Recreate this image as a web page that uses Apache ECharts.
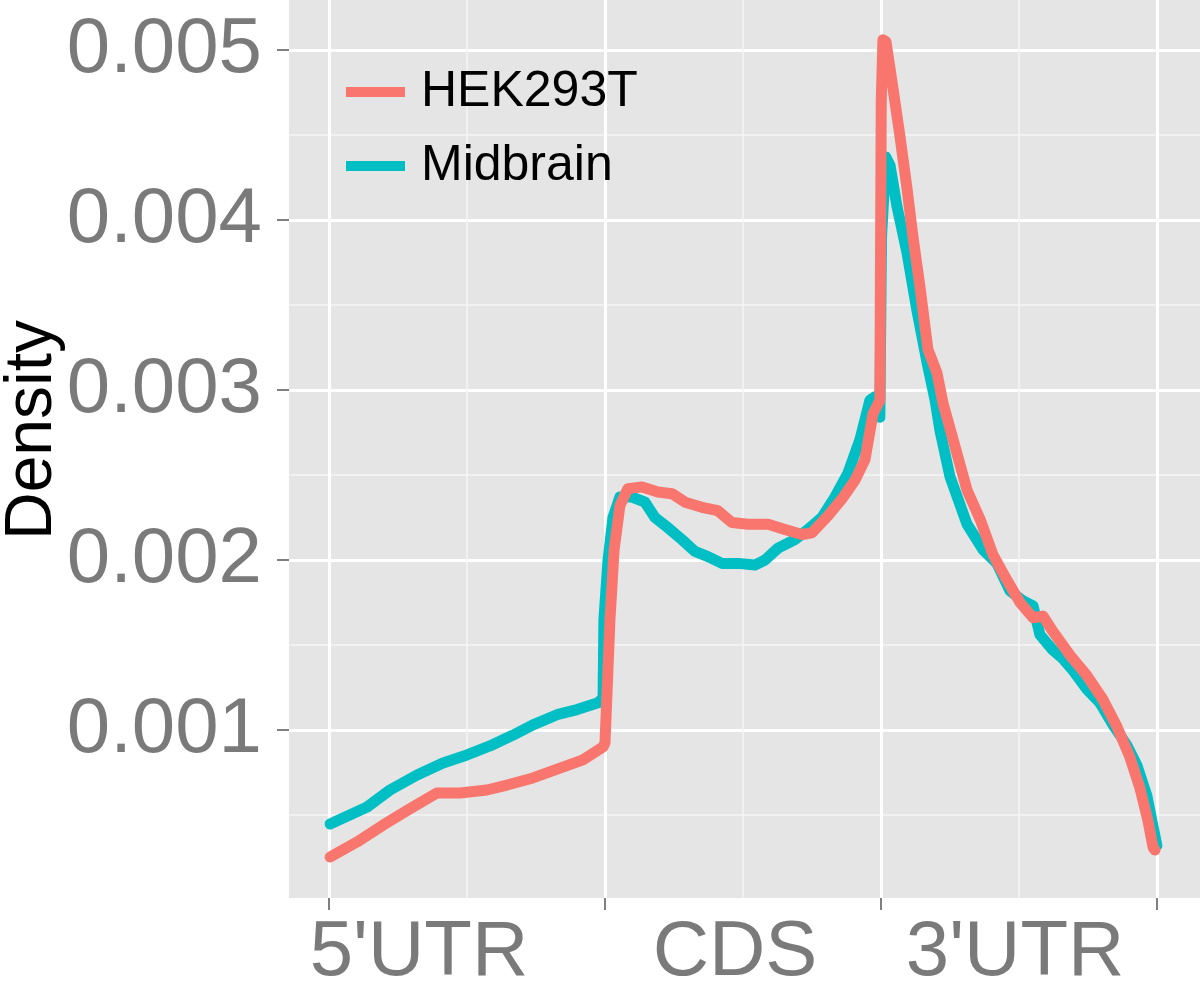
<!DOCTYPE html>
<html><head><meta charset="utf-8">
<script src="https://cdn.jsdelivr.net/npm/echarts@6/dist/echarts.min.js"></script>
<style>html,body{margin:0;padding:0;background:#fff}#c{width:1200px;height:982px}</style>
</head><body><div id="c"></div>
<script>
// ---- data ----
const seriesNames = ['HEK293T', 'Midbrain'];
const regionLabels = ["5'UTR", 'CDS', "3'UTR"];
const regionLabelPos = [0.326, 1.471, 2.486];
const regionBounds = [0, 1, 2, 3];
const regionMinor = [0.5, 1.5, 2.5];
const yTicks = [0.001, 0.002, 0.003, 0.004, 0.005];
const yMinorTicks = [0.0005, 0.0015, 0.0025, 0.0035, 0.0045];

const hekX = [0.004, 0.101, 0.196, 0.304, 0.391, 0.475, 0.572, 0.645, 0.739, 0.837,
              0.920, 0.993, 1.000, 1.018, 1.033, 1.054, 1.083, 1.134, 1.192, 1.243,
              1.290, 1.351, 1.409, 1.460, 1.518, 1.591, 1.652, 1.714, 1.750, 1.808,
              1.859, 1.906, 1.942, 1.971, 1.996, 2.001, 2.007, 2.018, 2.043, 2.069,
              2.094, 2.116, 2.141, 2.170, 2.203, 2.225, 2.261, 2.312, 2.359, 2.406,
              2.457, 2.504, 2.551, 2.587, 2.623, 2.685, 2.746, 2.804, 2.855, 2.902,
              2.938, 2.967, 2.986, 2.993];
const hekY = [0.000253, 0.000341, 0.000441, 0.000547, 0.000629, 0.000629, 0.000647, 0.000676, 0.000718, 0.000776,
              0.000824, 0.000900, 0.000924, 0.00165, 0.00206, 0.00232, 0.00242, 0.00243, 0.00240, 0.00239,
              0.00234, 0.00231, 0.00229, 0.00222, 0.00221, 0.00221, 0.00218, 0.00215, 0.00216, 0.00226,
              0.00236, 0.00247, 0.00259, 0.00286, 0.00294, 0.00470, 0.00506, 0.00505, 0.00478, 0.00449,
              0.00419, 0.00390, 0.00361, 0.00324, 0.00310, 0.00292, 0.00271, 0.00241, 0.00224, 0.00203,
              0.00188, 0.00175, 0.00166, 0.00167, 0.00158, 0.00144, 0.00132, 0.00118, 0.00102, 0.00084,
              0.00066, 0.00047, 0.00031, 0.000294];

const midX = [0.004, 0.138, 0.221, 0.319, 0.413, 0.500, 0.583, 0.667, 0.739, 0.826,
              0.899, 0.975, 0.993, 0.996, 1.011, 1.029, 1.054, 1.098, 1.145, 1.181,
              1.228, 1.279, 1.326, 1.373, 1.424, 1.482, 1.543, 1.580, 1.627, 1.688,
              1.736, 1.786, 1.833, 1.880, 1.924, 1.960, 1.978, 1.996, 2.002, 2.018,
              2.033, 2.058, 2.094, 2.130, 2.167, 2.196, 2.214, 2.250, 2.312, 2.370,
              2.420, 2.467, 2.514, 2.551, 2.576, 2.623, 2.659, 2.696, 2.746, 2.793,
              2.841, 2.891, 2.928, 2.964, 2.986, 3.000];
const midY = [0.000447, 0.000547, 0.000647, 0.000735, 0.000806, 0.000853, 0.000906, 0.000970, 0.00103, 0.00109,
              0.00112, 0.00116, 0.00119, 0.00165, 0.00200, 0.00225, 0.00237, 0.00237, 0.00234, 0.00225,
              0.00219, 0.00212, 0.00205, 0.00202, 0.00198, 0.00198, 0.00197, 0.00200, 0.00207, 0.00212,
              0.00218, 0.00225, 0.00237, 0.00251, 0.00271, 0.00294, 0.00296, 0.00284, 0.00390, 0.00437,
              0.00432, 0.00408, 0.00381, 0.00347, 0.00316, 0.00294, 0.00276, 0.00249, 0.00221, 0.00206,
              0.00198, 0.00182, 0.00176, 0.00173, 0.00156, 0.00147, 0.00142, 0.00135, 0.00124, 0.00116,
              0.00103, 0.00091, 0.00079, 0.00061, 0.00043, 0.00032];

// ---- chart ----
const FONT = '"Liberation Sans", Arial, sans-serif';
const X_MIN = -0.145, X_MAX = 3.156;
const Y_MIN = 0.0000117, Y_MAX = 0.0052941;
const hekData = hekX.map((x, i) => [x, hekY[i]]);
const midData = midX.map((x, i) => [x, midY[i]]);

const chart = echarts.init(document.getElementById('c'), null, {renderer: 'canvas'});
const hidden = {show: false, onZero: false};
chart.setOption({
  animation: false,
  backgroundColor: '#ffffff',
  grid: {left: 289, right: 0, top: 0, bottom: 84, show: true, backgroundColor: '#e5e5e5', borderWidth: 0,
         containLabel: false, outerBoundsMode: 'none'},
  legend: {
    data: seriesNames, orient: 'vertical', left: 341, top: 62,
    icon: 'rect', itemWidth: 59, itemHeight: 10, itemGap: 24,
    textStyle: {fontFamily: FONT, fontSize: 50, color: '#000', lineHeight: 50, padding: [0, 0, 0, 11]}
  },
  xAxis: [{
    type: 'value', min: X_MIN, max: X_MAX, position: 'bottom',
    axisLine: hidden,
    axisTick: {show: true, length: 12, customValues: regionBounds, lineStyle: {color: '#7f7f7f', width: 2}},
    axisLabel: {show: true, customValues: regionLabelPos, margin: 16,
      fontFamily: FONT, fontSize: 78, color: '#7a7a7a',
      formatter: (v) => { let k = 0; regionLabelPos.forEach((p, i) => { if (Math.abs(p - v) < Math.abs(regionLabelPos[k] - v)) k = i; }); return regionLabels[k]; }},
    splitLine: {show: true, lineStyle: {color: '#ffffff', width: 3}}
  }, {
    type: 'value', min: X_MIN, max: X_MAX, position: 'top',
    axisLine: hidden, axisLabel: {show: false},
    axisTick: {show: false, customValues: regionMinor},
    splitLine: {show: true, lineStyle: {color: '#f4f4f4', width: 1.5}}
  }],
  yAxis: [{
    type: 'value', min: Y_MIN, max: Y_MAX, position: 'left',
    name: 'Density', nameLocation: 'middle', nameGap: 223, nameMoveOverlap: false,
    nameTextStyle: {fontFamily: FONT, fontSize: 66, color: '#000', padding: [0, 0, 0, 38]},
    axisLine: hidden,
    axisTick: {show: true, length: 12, customValues: yTicks, lineStyle: {color: '#7f7f7f', width: 2}},
    axisLabel: {show: true, customValues: yTicks, margin: 27, fontFamily: FONT, fontSize: 78, color: '#7a7a7a',
      formatter: (v) => v.toFixed(3)},
    splitLine: {show: true, lineStyle: {color: '#ffffff', width: 3}}
  }, {
    type: 'value', min: Y_MIN, max: Y_MAX, position: 'right',
    axisLine: hidden, axisLabel: {show: false},
    axisTick: {show: false, customValues: yMinorTicks},
    splitLine: {show: true, lineStyle: {color: '#f4f4f4', width: 1.5}}
  }],
  series: [{
    name: seriesNames[1], type: 'line', data: midData, xAxisIndex: 0, yAxisIndex: 0,
    showSymbol: false, symbol: 'none', color: '#00BFC4',
    lineStyle: {width: 11, color: '#00BFC4', cap: 'round', join: 'round'}
  }, {
    name: seriesNames[0], type: 'line', data: hekData, xAxisIndex: 0, yAxisIndex: 0,
    showSymbol: false, symbol: 'none', color: '#F8766D',
    lineStyle: {width: 11, color: '#F8766D', cap: 'round', join: 'round'}
  }]
});
</script>
</body></html>
